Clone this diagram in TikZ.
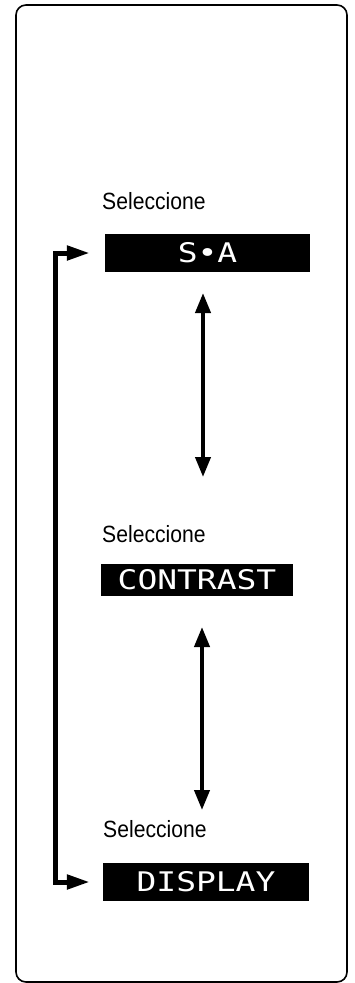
\documentclass[tikz,border=0pt]{standalone}
\usepackage{fontspec}
\usepackage{tikz}
\usetikzlibrary{arrows.meta,positioning,calc}
\newfontfamily\selfont[FakeStretch=0.9]{Liberation Sans}
\newfontfamily\lcdfont[FakeStretch=1.22]{DejaVu Sans Mono}

\tikzset{
  lcd/.style={fill=black,text=white,inner sep=0pt,font=\lcdfont\fontsize{27}{27}\selectfont},
  sel/.style={anchor=base west,inner sep=0pt,font=\selfont\fontsize{23.5}{24}\selectfont},
  updown/.style={line width=4pt,{Triangle[length=20pt,width=15pt]}-{Triangle[length=20pt,width=15pt]}},
  loopback/.style={line width=5pt,{Triangle[length=23pt,width=14pt]}-{Triangle[length=23pt,width=14pt]}}
}

\begin{document}
\begin{tikzpicture}[x=1pt,y=-1pt]
 \useasboundingbox (0,0) rectangle (354,983);
 \draw[line width=1.6pt,rounded corners=10pt] (16,5) rectangle (347,982);
 % menu entries
 \node[sel] (sel1) at (102,209) {Seleccione};
 \node[lcd,minimum width=205pt,minimum height=38pt] (sa) at (207.5,253) {S•A};
 \node[sel] (sel2) at (102,542) {Seleccione};
 \node[lcd,minimum width=192pt,minimum height=32pt] (contrast) at (197,580) {CONTRAST};
 \node[sel] (sel3) at (103,837) {Seleccione};
 \node[lcd,minimum width=206pt,minimum height=38pt] (display) at (206,882) {DISPLAY};
 % toggles between entries
 \coordinate (t1) at (203,293); \coordinate (b1) at (203,477);
 \coordinate (t2) at (202,627); \coordinate (b2) at (202,810);
 \draw[updown] (t1) -- (b1);
 \draw[updown] (t2) -- (b2);
 % return from last to first
 \draw[loopback] ([xshift=-15pt]sa.west) -- ++(-34,0) |- ([xshift=-13pt]display.west);
\end{tikzpicture}
\end{document}
